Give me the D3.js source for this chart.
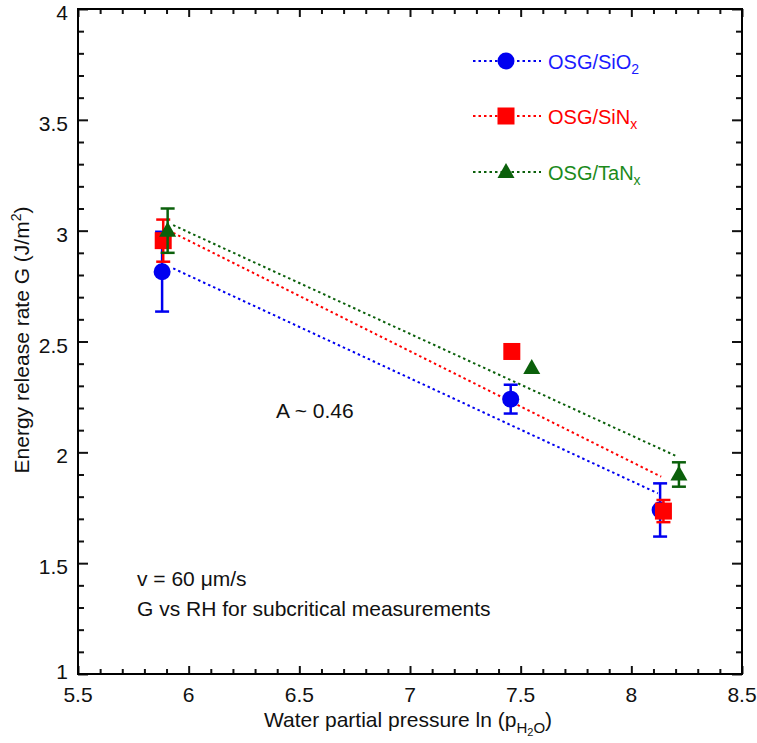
<!DOCTYPE html>
<html>
<head>
<meta charset="utf-8">
<script src="https://cdn.jsdelivr.net/npm/d3@7"></script>
<style>
  html, body { margin: 0; padding: 0; background: #fff; }
  svg { display: block; font-family: "Liberation Sans", Arial, Helvetica, sans-serif; }
</style>
</head>
<body>
<svg id="chart" width="757" height="743"></svg>
<script>
// Measured points: ln(p_H2O), G (J/m^2), symmetric error half-width
const sio2X = [5.88, 7.455, 8.13];
const sio2G = [2.815, 2.24, 1.74];
const sio2Err = [0.18, 0.065, 0.12];

const sinxX = [5.885, 7.46, 8.145];
const sinxG = [2.955, 2.455, 1.735];
const sinxErr = [0.095, 0, 0.05];

const tanxX = [5.905, 7.55, 8.215];
const tanxG = [3.0, 2.38, 1.9];
const tanxErr = [0.1, 0, 0.055];

// Fitted trend lines (start / end)
const sio2FitX = [5.93, 8.12];
const sio2FitG = [2.83, 1.815];
const sinxFitX = [5.93, 8.135];
const sinxFitG = [2.99, 1.89];
const tanxFitX = [5.93, 8.21];
const tanxFitG = [3.025, 1.98];

const xTicks = [5.5, 6, 6.5, 7, 7.5, 8, 8.5];
const yTicks = [1, 1.5, 2, 2.5, 3, 3.5, 4];

const series = [
  { name: "OSG/SiO", sub: "2", color: "#0000f0", text: "#1a1aff", marker: "circle",
    x: sio2X, g: sio2G, err: sio2Err, fx: sio2FitX, fg: sio2FitG },
  { name: "OSG/SiN", sub: "x", color: "#ff0000", text: "#ff0000", marker: "square",
    x: sinxX, g: sinxG, err: sinxErr, fx: sinxFitX, fg: sinxFitG },
  { name: "OSG/TaN", sub: "x", color: "#0b600b", text: "#1b8a1b", marker: "triangle",
    x: tanxX, g: tanxG, err: tanxErr, fx: tanxFitX, fg: tanxFitG }
];

const svg = d3.select("#chart");
const plotL = 78, plotR = 742, plotT = 9, plotB = 674;

const x = d3.scaleLinear().domain([5.5, 8.5]).range([plotL, plotR]);
const y = d3.scaleLinear().domain([1, 4]).range([plotB, plotT]);

// Inward ticks on all four sides
const minorX = d3.range(55, 86).map(v => v / 10);
const minorY = d3.range(10, 41).map(v => v / 10);

function isMajor(v, list) { return list.some(t => Math.abs(t - v) < 1e-6); }

const axG = svg.append("g");
axG.append("g").attr("transform", `translate(0,${plotB})`)
  .call(d3.axisBottom(x).tickValues(minorX).tickSize(0).tickFormat(""))
  .call(g => g.select(".domain").remove())
  .call(g => g.selectAll(".tick line").attr("y2", d => isMajor(d, xTicks) ? -8 : -5));
axG.append("g").attr("transform", `translate(0,${plotT})`)
  .call(d3.axisTop(x).tickValues(minorX).tickSize(0).tickFormat(""))
  .call(g => g.select(".domain").remove())
  .call(g => g.selectAll(".tick line").attr("y2", d => isMajor(d, xTicks) ? 8 : 5));
axG.append("g").attr("transform", `translate(${plotL},0)`)
  .call(d3.axisLeft(y).tickValues(minorY).tickSize(0).tickFormat(""))
  .call(g => g.select(".domain").remove())
  .call(g => g.selectAll(".tick line").attr("x2", d => isMajor(d, yTicks) ? 10 : 6));
axG.append("g").attr("transform", `translate(${plotR},0)`)
  .call(d3.axisRight(y).tickValues(minorY).tickSize(0).tickFormat(""))
  .call(g => g.select(".domain").remove())
  .call(g => g.selectAll(".tick line").attr("x2", d => isMajor(d, yTicks) ? -10 : -6));
axG.selectAll(".tick line").attr("stroke", "#111").attr("stroke-width", 2);

svg.append("rect")
  .attr("x", plotL).attr("y", plotT)
  .attr("width", plotR - plotL).attr("height", plotB - plotT)
  .attr("fill", "none").attr("stroke", "#000").attr("stroke-width", 2);

// Tick labels (the lowest y label sits a little higher to clear the x labels)
svg.append("g").selectAll("text").data(xTicks).join("text")
  .attr("x", d => x(d)).attr("y", plotB + 28)
  .attr("text-anchor", "middle").attr("font-size", 21).attr("fill", "#111")
  .text(d => d);
svg.append("g").selectAll("text").data(yTicks).join("text")
  .attr("x", plotL - 10).attr("y", d => y(d) + (d === 1 ? 5 : 11))
  .attr("text-anchor", "end").attr("font-size", 21).attr("fill", "#111")
  .text(d => d);

// Axis titles
const xt = svg.append("text")
  .attr("x", 408).attr("y", 727)
  .attr("text-anchor", "middle").attr("font-size", 21).attr("fill", "#111");
xt.append("tspan").text("Water partial pressure ln (p");
xt.append("tspan").attr("font-size", 15).attr("dy", 6).text("H");
xt.append("tspan").attr("font-size", 11).attr("dy", 3).text("2");
xt.append("tspan").attr("font-size", 15).attr("dy", -3).text("O");
xt.append("tspan").attr("dy", -6).text(")");

const yt = svg.append("text")
  .attr("transform", "translate(29,340) rotate(-90)")
  .attr("text-anchor", "middle").attr("font-size", 21).attr("fill", "#111");
yt.append("tspan").text("Energy release rate G (J/m");
yt.append("tspan").attr("font-size", 14).attr("dy", -8).text("2");
yt.append("tspan").attr("dy", 8).text(")");

// Marker drawing
function drawMarker(g, type, cx, cy, color) {
  if (type === "circle") {
    g.append("circle").attr("cx", cx).attr("cy", cy).attr("r", 8.5).attr("fill", color);
  } else if (type === "square") {
    g.append("rect").attr("x", cx - 8.5).attr("y", cy - 8.5)
      .attr("width", 17).attr("height", 17).attr("fill", color);
  } else {
    g.append("path")
      .attr("d", `M${cx},${cy - 9}L${cx + 8.5},${cy + 6}L${cx - 8.5},${cy + 6}Z`)
      .attr("fill", color);
  }
}

const plot = svg.append("g");

// Dotted fit lines
series.forEach(s => {
  const pts = s.fx.map((v, i) => [x(v), y(s.fg[i])]);
  plot.append("path")
    .attr("d", d3.line()(pts))
    .attr("fill", "none").attr("stroke", s.color)
    .attr("stroke-width", 2).attr("stroke-dasharray", "2.5,3");
});

// Error bars and markers
series.forEach(s => {
  const g = plot.append("g");
  s.x.forEach((xv, i) => {
    const e = s.err[i];
    if (e > 0) {
      const px = x(xv);
      g.append("line").attr("x1", px).attr("x2", px)
        .attr("y1", y(s.g[i] - e)).attr("y2", y(s.g[i] + e))
        .attr("stroke", s.color).attr("stroke-width", 2.5);
      [s.g[i] - e, s.g[i] + e].forEach(v => {
        g.append("line").attr("x1", px - 7).attr("x2", px + 7)
          .attr("y1", y(v)).attr("y2", y(v))
          .attr("stroke", s.color).attr("stroke-width", 2.5);
      });
    }
    drawMarker(g, s.marker, x(xv), y(s.g[i]), s.color);
  });
});

// Legend
const legendY = [61, 116, 172];
series.forEach((s, i) => {
  const ly = legendY[i];
  const lg = svg.append("g");
  lg.append("line").attr("x1", 473).attr("x2", 541).attr("y1", ly).attr("y2", ly)
    .attr("stroke", s.color).attr("stroke-width", 2).attr("stroke-dasharray", "2.5,3");
  drawMarker(lg, s.marker, 506, ly, s.color);
  const t = lg.append("text").attr("x", 548).attr("y", ly + 8)
    .attr("font-size", 20).attr("fill", s.text);
  t.append("tspan").text(s.name);
  t.append("tspan").attr("font-size", 14).attr("dy", 5).text(s.sub);
});

// Annotations
svg.append("text").attr("x", 276).attr("y", 418).attr("font-size", 21).attr("fill", "#111")
  .text("A ~ 0.46");
svg.append("text").attr("x", 137).attr("y", 586).attr("font-size", 21).attr("fill", "#111")
  .text("v = 60 \u03bcm/s");
svg.append("text").attr("x", 137).attr("y", 616).attr("font-size", 21).attr("fill", "#111")
  .text("G vs RH for subcritical measurements");
</script>
</body>
</html>
